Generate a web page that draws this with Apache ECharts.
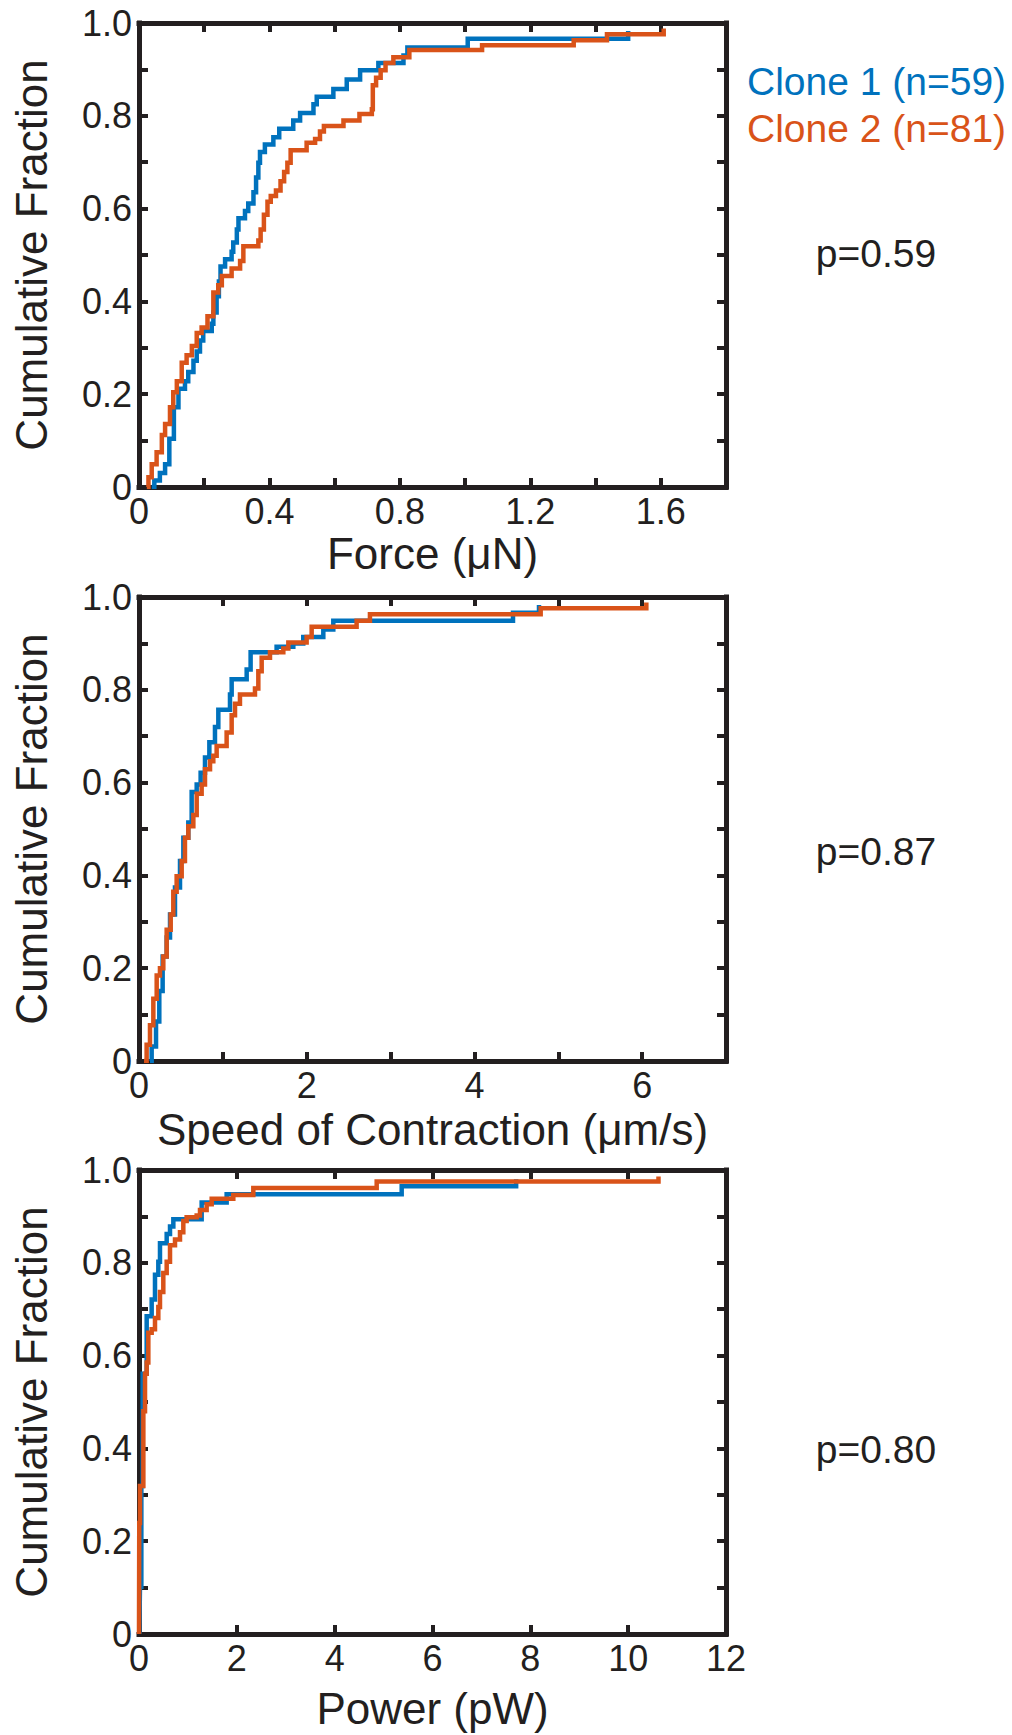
<!DOCTYPE html>
<html>
<head>
<meta charset="utf-8">
<script src="https://cdn.jsdelivr.net/npm/echarts@6/dist/echarts.min.js"></script>
<style>
  html, body { margin: 0; padding: 0; background: #ffffff; }
  #chart { width: 1012px; height: 1735px; }
</style>
</head>
<body>
<div id="chart"></div>
<script>
// ---------- DATA ----------
const seriesNames = ['Clone 1 (n=59)', 'Clone 2 (n=81)'];
const pValues = ['p=0.59', 'p=0.87', 'p=0.80'];
const xAxisNames = ['Force (\u03bcN)', 'Speed of Contraction (\u03bcm/s)', 'Power (pW)'];
const yAxisName = 'Cumulative Fraction';

// Empirical cumulative fractions: [x, fraction] step corners
const forceClone1 = [
  [0.039,0],[0.047,0.014],[0.064,0.030],[0.080,0.049],[0.093,0.104],[0.107,0.172],[0.121,0.212],
  [0.141,0.228],[0.151,0.248],[0.167,0.272],[0.177,0.292],[0.187,0.316],[0.197,0.336],[0.223,0.352],
  [0.228,0.376],[0.238,0.411],[0.245,0.443],[0.250,0.475],[0.264,0.491],[0.284,0.507],[0.289,0.527],
  [0.300,0.555],[0.305,0.579],[0.325,0.595],[0.335,0.611],[0.351,0.635],[0.359,0.667],[0.366,0.699],
  [0.371,0.722],[0.386,0.738],[0.412,0.754],[0.430,0.772],[0.473,0.790],[0.494,0.806],[0.535,0.825],
  [0.545,0.841],[0.596,0.858],[0.637,0.878],[0.678,0.898],[0.734,0.914],[0.811,0.930],[0.823,0.947],
  [1.008,0.966],[1.500,0.983]
];
const forceClone2 = [
  [0.024,0],[0.029,0.021],[0.039,0.049],[0.054,0.075],[0.070,0.112],[0.080,0.136],[0.095,0.172],
  [0.105,0.204],[0.116,0.228],[0.131,0.268],[0.146,0.284],[0.162,0.304],[0.177,0.332],[0.192,0.344],
  [0.210,0.368],[0.228,0.419],[0.243,0.435],[0.254,0.455],[0.284,0.471],[0.310,0.487],[0.320,0.519],
  [0.366,0.531],[0.373,0.555],[0.383,0.587],[0.394,0.615],[0.404,0.627],[0.420,0.639],[0.434,0.659],
  [0.445,0.679],[0.455,0.699],[0.465,0.726],[0.514,0.742],[0.540,0.750],[0.555,0.766],[0.567,0.778],
  [0.627,0.790],[0.676,0.804],[0.714,0.814],[0.717,0.866],[0.727,0.882],[0.741,0.898],[0.756,0.914],
  [0.780,0.926],[0.829,0.942],[1.052,0.952],[1.333,0.963],[1.435,0.976],[1.609,0.988]
];
const speedClone1 = [
  [0.131,0],[0.151,0.031],[0.203,0.085],[0.242,0.151],[0.282,0.225],[0.330,0.266],[0.370,0.316],
  [0.429,0.374],[0.489,0.431],[0.529,0.481],[0.588,0.514],[0.628,0.580],[0.688,0.596],[0.735,0.621],
  [0.787,0.654],[0.839,0.687],[0.906,0.720],[0.946,0.757],[1.085,0.790],[1.105,0.823],[1.284,0.844],
  [1.331,0.881],[1.641,0.893],[1.840,0.900],[1.959,0.914],[2.198,0.930],[2.317,0.949],[4.46,0.966],
  [4.77,0.983]
];
const speedClone2 = [
  [0.060,0],[0.091,0.035],[0.131,0.077],[0.171,0.134],[0.211,0.184],[0.250,0.200],[0.290,0.225],
  [0.330,0.283],[0.378,0.316],[0.409,0.365],[0.449,0.398],[0.509,0.431],[0.548,0.481],[0.588,0.506],
  [0.648,0.530],[0.688,0.576],[0.747,0.596],[0.787,0.629],[0.847,0.646],[0.886,0.658],[0.926,0.679],
  [1.045,0.708],[1.105,0.745],[1.145,0.770],[1.204,0.790],[1.383,0.803],[1.423,0.840],[1.463,0.869],
  [1.562,0.881],[1.721,0.889],[1.781,0.902],[1.999,0.914],[2.059,0.936],[2.595,0.949],[2.754,0.963],
  [4.79,0.976],[6.05,0.988]
];
const powerClone1 = [
  [0.007,0],[0.020,0.102],[0.048,0.319],[0.075,0.561],[0.157,0.685],[0.259,0.721],[0.327,0.774],
  [0.395,0.802],[0.429,0.842],[0.566,0.862],[0.634,0.878],[0.702,0.894],[1.281,0.930],[1.792,0.948],
  [5.37,0.965],[7.71,0.980]
];
const powerClone2 = [
  [0.0,0],[0.005,0.239],[0.020,0.319],[0.089,0.480],[0.123,0.561],[0.157,0.585],[0.191,0.649],
  [0.259,0.657],[0.327,0.681],[0.395,0.705],[0.429,0.737],[0.497,0.778],[0.566,0.802],[0.634,0.838],
  [0.736,0.850],[0.838,0.866],[0.906,0.890],[0.974,0.898],[1.179,0.902],[1.247,0.914],[1.383,0.926],
  [1.486,0.938],[1.928,0.946],[2.337,0.961],[4.859,0.975],[10.62,0.986]
];

// Axis ranges and ticks
const xRanges = [[0, 1.8], [0, 7], [0, 12]];
const xTickValues = [
  [0,0.2,0.4,0.6,0.8,1.0,1.2,1.4,1.6,1.8],
  [0,1,2,3,4,5,6,7],
  [0,2,4,6,8,10,12]
];
const xTickLabels = [
  ['0','0.4','0.8','1.2','1.6'],
  ['0','2','4','6'],
  ['0','2','4','6','8','10','12']
];
const yTickValues = [0,0.1,0.2,0.3,0.4,0.5,0.6,0.7,0.8,0.9,1.0];
const yTickLabels = ['0','0.2','0.4','0.6','0.8','1.0'];

// ---------- STYLE ----------
const BLUE = '#0072BD';
const RED = '#D95319';
const INK = '#231F20';
const FONT = '"Liberation Sans", Arial, Helvetica, sans-serif';

const gridTops = [23, 597, 1170];
const nameGaps = [44, 46, 52];
const pY = [253, 851, 1449];

const seriesData = [[forceClone1, forceClone2], [speedClone1, speedClone2], [powerClone1, powerClone2]];

const grids = [], xAxes = [], yAxes = [], series = [];
const axisLineStyle = { color: INK, width: 5, cap: 'square' };
const tickStyle = { color: INK, width: 4 };

for (let i = 0; i < 3; i++) {
  grids.push({ left: 139, top: gridTops[i], width: 587, height: 464, containLabel: false });
  const labelVals = xTickLabels[i].map(Number);
  // bottom x axis
  xAxes.push({
    type: 'value', gridIndex: i, position: 'bottom',
    min: xRanges[i][0], max: xRanges[i][1],
    name: xAxisNames[i], nameLocation: 'middle', nameGap: nameGaps[i],
    nameTextStyle: { fontSize: 44, lineHeight: 44, fontFamily: FONT, color: INK },
    axisLine: { show: true, onZero: false, lineStyle: axisLineStyle },
    axisTick: { show: true, inside: true, length: 9, lineStyle: tickStyle, customValues: xTickValues[i] },
    axisLabel: {
      show: true, fontSize: 36, lineHeight: 26, fontFamily: FONT, color: INK, margin: 11,
      customValues: labelVals,
      formatter: (v) => { const k = labelVals.findIndex(t => Math.abs(t - v) < 1e-9); return k >= 0 ? xTickLabels[i][k] : ''; }
    },
    splitLine: { show: false }
  });
  // top mirror x axis
  xAxes.push({
    type: 'value', gridIndex: i, position: 'top',
    min: xRanges[i][0], max: xRanges[i][1],
    axisLine: { show: true, onZero: false, lineStyle: axisLineStyle },
    axisTick: { show: true, inside: true, length: 9, lineStyle: tickStyle, customValues: xTickValues[i] },
    axisLabel: { show: false },
    splitLine: { show: false }
  });
  const yLabelVals = yTickLabels.map(Number);
  yAxes.push({
    type: 'value', gridIndex: i, position: 'left',
    min: 0, max: 1,
    name: yAxisName, nameLocation: 'middle', nameGap: 86, nameRotate: 90,
    nameTextStyle: { fontSize: 44, lineHeight: 44, fontFamily: FONT, color: INK },
    axisLine: { show: true, onZero: false, lineStyle: axisLineStyle },
    axisTick: { show: true, inside: true, length: 9, lineStyle: tickStyle, customValues: yTickValues },
    axisLabel: {
      show: true, fontSize: 36, lineHeight: 26, fontFamily: FONT, color: INK, margin: 7,
      customValues: yLabelVals,
      formatter: (v) => { const k = yLabelVals.findIndex(t => Math.abs(t - v) < 1e-9); return k >= 0 ? yTickLabels[k] : ''; }
    },
    splitLine: { show: false }
  });
  yAxes.push({
    type: 'value', gridIndex: i, position: 'right',
    min: 0, max: 1,
    axisLine: { show: true, onZero: false, lineStyle: axisLineStyle },
    axisTick: { show: true, inside: true, length: 9, lineStyle: tickStyle, customValues: yTickValues },
    axisLabel: { show: false },
    splitLine: { show: false }
  });
  [0, 1].forEach(s => {
    series.push({
      name: seriesNames[s], type: 'line', step: 'end',
      xAxisIndex: i * 2, yAxisIndex: i * 2,
      data: seriesData[i][s],
      showSymbol: false, symbol: 'none', silent: true,
      lineStyle: { color: s === 0 ? BLUE : RED, width: 4.5, cap: 'butt', join: 'miter' },
      itemStyle: { color: s === 0 ? BLUE : RED },
      z: 2 + s
    });
  });
}

const graphics = pValues.map((t, i) => ({
  type: 'text', x: 876, y: pY[i],
  style: { text: t, fontSize: 39, fontFamily: FONT, fill: INK, align: 'center', verticalAlign: 'middle' }
}));

const option = {
  animation: false,
  backgroundColor: '#ffffff',
  grid: grids,
  xAxis: xAxes,
  yAxis: yAxes,
  legend: {
    orient: 'vertical', left: 742, top: 62, padding: 0,
    icon: 'none', itemWidth: 0, itemHeight: 38, itemGap: 8,
    selectedMode: false,
    textStyle: { fontSize: 39, fontFamily: FONT },
    data: [
      { name: seriesNames[0], textStyle: { color: BLUE } },
      { name: seriesNames[1], textStyle: { color: RED } }
    ]
  },
  graphic: graphics,
  series: series
};

const chart = echarts.init(document.getElementById('chart'), null, { renderer: 'svg' });
chart.setOption(option);
</script>
</body>
</html>
